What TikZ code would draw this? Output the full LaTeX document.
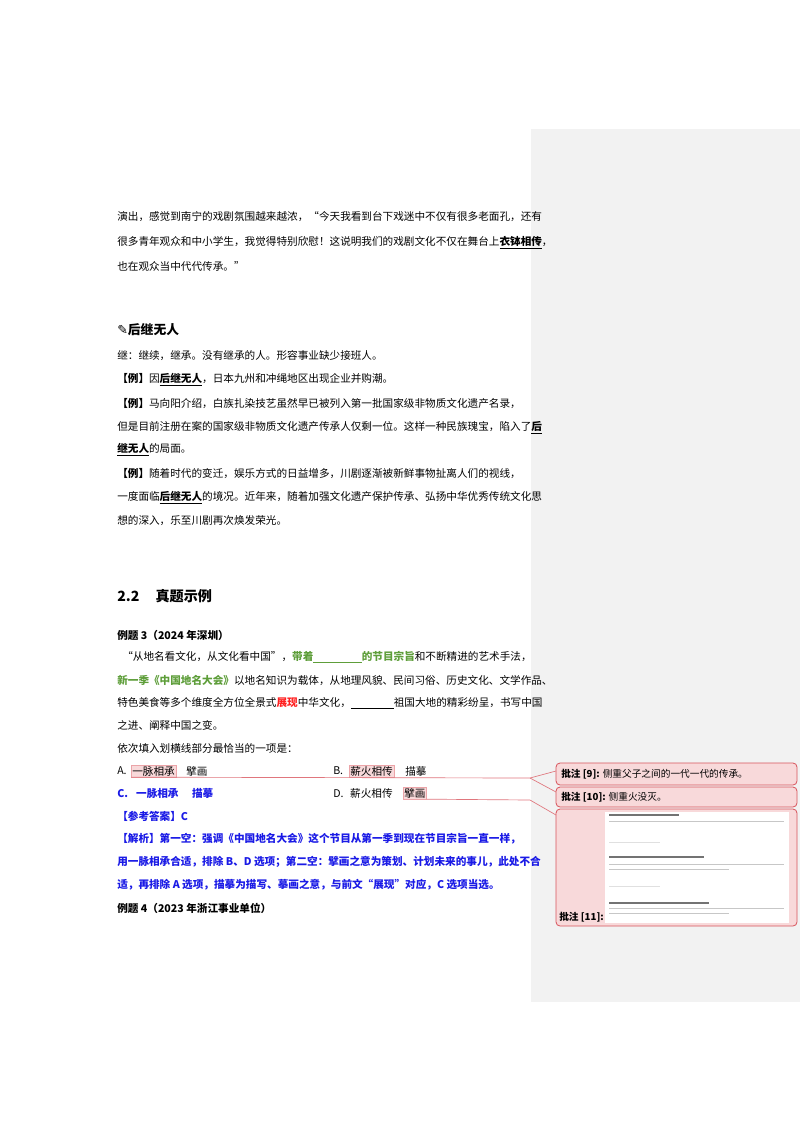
\documentclass[tikz,border=0pt]{standalone}
\usepackage{fontspec}
\setmainfont{Noto Sans CJK SC}
\newfontfamily\dvs{DejaVu Sans}
\begin{document}
\definecolor{grn}{HTML}{5E9E3A}
\definecolor{blu}{HTML}{1A1AE6}
\definecolor{red1}{HTML}{FF2020}
\definecolor{pnk}{HTML}{F8D9DA}
\definecolor{pbd}{HTML}{D8545C}
\definecolor{panel}{HTML}{F2F2F2}
\newcommand\uw[1]{\underline{\textbf{#1}}}
\begin{tikzpicture}[x=0.744pt,y=-0.744pt,
  ln/.style={anchor=west,inner sep=0pt,font=\fontsize{7.9}{9}\selectfont},
  bl/.style={anchor=west,inner sep=0pt,text=blu,font=\fontsize{7.9}{9}\selectfont\bfseries},
  hl/.style={anchor=west,inner sep=0.8pt,fill=pnk,draw=pnk!60!pbd,line width=0.3pt,font=\fontsize{7.9}{9}\selectfont},
  cbox/.style={draw=pbd,fill=pnk,rounded corners=3pt,line width=0.6pt},
  lead/.style={draw=pbd!80,line width=0.5pt}]
\useasboundingbox (0,0) rectangle (800,1132);
\fill[white] (0,0) rectangle (800,1132);
\fill[panel] (531,129) rectangle (800,1002);

\node[ln] (t1) at (117,217) {演出，感觉到南宁的戏剧氛围越来越浓，“今天我看到台下戏迷中不仅有很多老面孔，还有};
\node[ln] (t2) at (117,243) {很多青年观众和中小学生，我觉得特别欣慰！这说明我们的戏剧文化不仅在舞台上\uw{衣钵相传}，};
\node[ln] (t3) at (117,266) {也在观众当中代代传承。”};

\node[ln,font=\fontsize{9.5}{11}\selectfont\bfseries] (h1) at (117,330) {{\dvs ✎}后继无人};
\node[ln] (t4) at (117,356) {继：继续，继承。没有继承的人。形容事业缺少接班人。};
\node[ln] (t5) at (117,380) {\textbf{【例】}因\uw{后继无人}，日本九州和冲绳地区出现企业并购潮。};
\node[ln] (t6) at (117,404) {\textbf{【例】}马向阳介绍，白族扎染技艺虽然早已被列入第一批国家级非物质文化遗产名录，};
\node[ln] (t7) at (117,428) {但是目前注册在案的国家级非物质文化遗产传承人仅剩一位。这样一种民族瑰宝，陷入了\uw{后}};
\node[ln] (t8) at (117,450) {\uw{继无人}的局面。};
\node[ln] (t9) at (117,474) {\textbf{【例】}随着时代的变迁，娱乐方式的日益增多，川剧逐渐被新鲜事物扯离人们的视线，};
\node[ln] (t10) at (117,498) {一度面临\uw{后继无人}的境况。近年来，随着加强文化遗产保护传承、弘扬中华优秀传统文化思};
\node[ln] (t11) at (117,521) {想的深入，乐至川剧再次焕发荣光。};

\node[ln,font=\fontsize{10.5}{12}\selectfont\bfseries] (h2) at (117,596) {2.2\hspace{12pt}真题示例};
\node[ln,font=\fontsize{7.9}{9}\selectfont\bfseries] (q3) at (117,635) {例题 3（2024 年深圳）};
\node[ln] (p1) at (122,657) {“从地名看文化，从文化看中国”，\textcolor{grn}{\textbf{带着\underline{\hspace{36pt}}的节目宗旨}}和不断精进的艺术手法，};
\node[ln] (p2) at (117,680) {\textcolor{grn}{\textbf{新一季《中国地名大会》}}以地名知识为载体，从地理风貌、民间习俗、历史文化、文学作品、};
\node[ln] (p3) at (117,703) {特色美食等多个维度全方位全景式\textcolor{red1}{\textbf{展现}}中华文化，\underline{\hspace{32pt}}祖国大地的精彩纷呈，书写中国};
\node[ln] (p4) at (117,725) {之进、阐释中国之变。};
\node[ln] (p5) at (117,748) {依次填入划横线部分最恰当的一项是：};

\node[ln] (oA) at (117,771) {A.};
\node[hl] (oA1) at (131,771) {一脉相承};
\node[ln] (oA2) at (186,771) {擘画};
\node[ln] (oB) at (333,771) {B.};
\node[hl] (oB1) at (349,771) {薪火相传};
\node[ln] (oB2) at (405,771) {描摹};
\node[bl] (oC) at (117,793) {C.\hspace{6pt}一脉相承\hspace{10pt}描摹};
\node[ln] (oD) at (333,793) {D.\hspace{5pt}薪火相传};
\node[hl] (oD2) at (403,793) {擘画};

\node[bl] (a1) at (117,816) {【参考答案】C};
\node[bl] (a2) at (117,839) {【解析】第一空：强调《中国地名大会》这个节目从第一季到现在节目宗旨一直一样，};
\node[bl] (a3) at (117,862) {用一脉相承合适，排除 B、D 选项；第二空：擘画之意为策划、计划未来的事儿，此处不合};
\node[bl] (a4) at (117,885) {适，再排除 A 选项，描摹为描写、摹画之意，与前文“展现”对应，C 选项当选。};
\node[ln,font=\fontsize{7.9}{9}\selectfont\bfseries] (q4) at (117,908) {例题 4（2023 年浙江事业单位）};

% comment boxes
\draw[cbox] (556,763) rectangle (797,785);
\node[anchor=west,inner sep=0pt,font=\fontsize{7.2}{9}\selectfont] (c9) at (561,774) {\textbf{批注 [9]:} 侧重父子之间的一代一代的传承。};
\draw[cbox] (556,787) rectangle (797,807);
\node[anchor=west,inner sep=0pt,font=\fontsize{7.2}{9}\selectfont] (c10) at (561,797) {\textbf{批注 [10]:} 侧重火没灭。};
\draw[cbox] (556,809) rectangle (797,926);
\node[anchor=west,inner sep=0pt,font=\fontsize{7.2}{9}\selectfont\bfseries] (c11) at (559,917) {批注 [11]:};
\fill[white] (605,812) rectangle (789,923);
\foreach \yy/\w in {814/70,856/95,902/100}{\fill[black!55] (609,\yy) rectangle (609+\w,\yy+2);}
\foreach \yy/\w in {821/175,864/175,869/120,908/175,913/120}{\fill[black!22] (609,\yy) rectangle (609+\w,\yy+1.3);}
\foreach \yy in {842,886}{\fill[black!12] (609,\yy) rectangle (660,\yy+1);}

% leaders
\coordinate (f1) at (530,778);
\coordinate (f2) at (530,800);
\draw[lead] (oA1.south west) -- (f1) -- (556,771);
\draw[lead] (f1) -- (556,792);
\draw[lead] (oD2.south east) -- (f2) -- (556,815);
\end{tikzpicture}
\end{document}
